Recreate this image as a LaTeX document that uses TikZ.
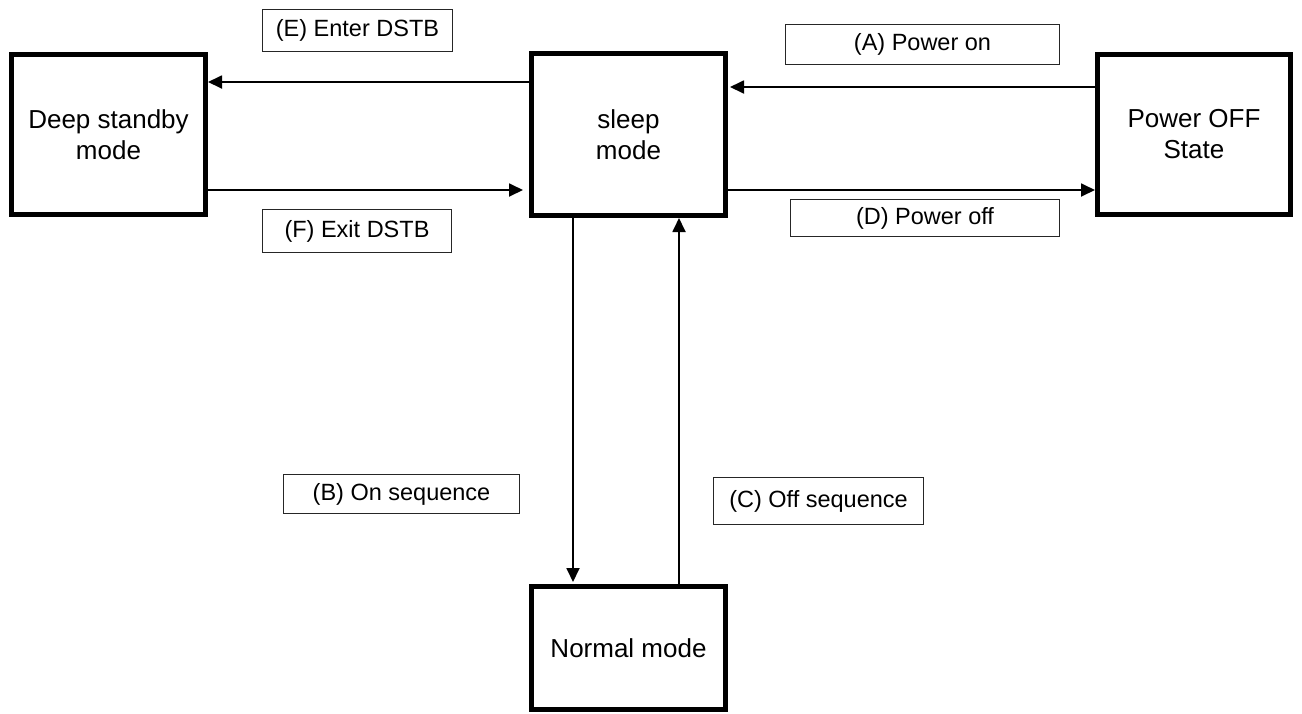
\documentclass[tikz,border=0pt]{standalone}
\usepackage{fontspec}
\setmainfont{Liberation Sans}
\usetikzlibrary{arrows.meta}
\begin{document}
\begin{tikzpicture}[x=1pt,y=-1pt,
  statebox/.style={draw=black,line width=5pt,fill=white,inner sep=0pt,align=center,
    font=\fontsize{26}{31}\selectfont},
  labelbox/.style={draw=black!85,line width=1.6pt,fill=white,inner sep=0pt,
    font=\fontsize{23.5}{28}\selectfont},
  arr/.style={line width=1.8pt,-{Triangle[length=14pt,width=13pt]}}]
\useasboundingbox (0,0) rectangle (1302,713);
% state boxes
\node[statebox,minimum width=194pt,minimum height=160pt] (deep) at (108.5,134.5) {Deep standby\\mode};
\node[statebox,minimum width=194pt,minimum height=162pt] (sleep) at (628.5,134.5) {sleep\\mode};
\node[statebox,minimum width=193pt,minimum height=160pt] (off) at (1194,134.5) {Power OFF\\State};
\node[statebox,minimum width=194pt,minimum height=123pt] (normal) at (628.5,648) {Normal mode};
% label boxes
\node[labelbox,minimum width=190pt,minimum height=42pt] (lE) at (357.5,30.5) {(E) Enter DSTB};
\node[labelbox,minimum width=189pt,minimum height=43pt] (lF) at (357,231) {(F) Exit DSTB};
\node[labelbox,minimum width=274pt,minimum height=40pt] (lA) at (922.5,44.5) {(A) Power on};
\node[labelbox,minimum width=269pt,minimum height=37pt] (lD) at (925,218) {(D) Power off};
\node[labelbox,minimum width=236pt,minimum height=39pt] (lB) at (401.5,494) {(B) On sequence};
\node[labelbox,minimum width=210pt,minimum height=47pt] (lC) at (818.5,501) {(C) Off sequence};
% helper coordinates
\coordinate (yE) at (0,82);
\coordinate (yF) at (0,190);
\coordinate (yA) at (0,87);
\coordinate (yD) at (0,190);
\coordinate (xB) at (573,0);
\coordinate (xC) at (679,0);
% connectors
\draw[arr] (sleep.west |- yE) -- (deep.east |- yE);
\draw[arr,shorten >=6pt] (deep.east |- yF) -- (sleep.west |- yF);
\draw[arr,shorten >=2pt] (off.west |- yA) -- (sleep.east |- yA);
\draw[arr] (sleep.east |- yD) -- (off.west |- yD);
\draw[arr,shorten >=2pt] (xB |- sleep.south) -- (xB |- normal.north);
\draw[arr] (xC |- normal.north) -- (xC |- sleep.south);
\end{tikzpicture}
\end{document}
